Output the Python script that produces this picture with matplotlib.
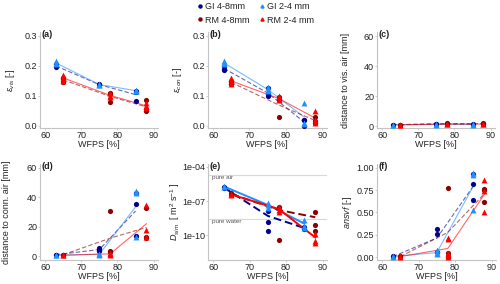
import numpy as np
import matplotlib
matplotlib.use("Agg")
import matplotlib.pyplot as plt
from matplotlib.lines import Line2D

plt.rcParams['font.family'] = ['Liberation Sans', 'DejaVu Sans']
plt.rcParams['mathtext.fontset'] = 'custom'
plt.rcParams['mathtext.rm'] = 'Liberation Sans'
plt.rcParams['mathtext.it'] = 'Liberation Sans:italic'
plt.rcParams['mathtext.bf'] = 'Liberation Sans:bold'

# ---------------- data ----------------
groups = ["GI 4-8mm", "GI 2-4 mm", "RM 4-8mm", "RM 2-4 mm"]
colors = ["#00008B", "#1E90FF", "#8B0000", "#FF0000"]
markers = ["o", "^", "o", "^"]
linestyles = ["--", "-", "--", "-"]
wfps_gi = [63, 75, 85]
wfps_rm = [65, 78, 88]

# (a) visible porosity
eps_vis_gi48 = [[0.195, 0.205], [0.140, 0.135], [0.083, 0.112, 0.118]]
eps_vis_gi24 = [[0.210, 0.215, 0.205], [0.140, 0.135, 0.138], [0.120, 0.115, 0.118]]
eps_vis_rm48 = [[0.155, 0.145, 0.160], [0.105, 0.080, 0.110], [0.085, 0.055, 0.050]]
eps_vis_rm24 = [[0.170, 0.160, 0.150], [0.110, 0.100, 0.095], [0.075, 0.065, 0.060]]

# (b) connected porosity
eps_con_gi48 = [[0.190, 0.200, 0.185], [0.100, 0.105, 0.125], [0.020, 0.000, 0.020]]
eps_con_gi24 = [[0.215, 0.205, 0.210], [0.120, 0.115, 0.130], [0.075, 0.005, 0.010]]
eps_con_rm48 = [[0.150, 0.140, 0.145], [0.095, 0.085, 0.030], [0.030, 0.015, 0.010]]
eps_con_rm24 = [[0.160, 0.150, 0.140], [0.100, 0.090, 0.085], [0.050, 0.020, 0.010]]

# (c) distance to visible air [mm]
dvis_gi48 = [[1.0, 0.8], [1.5, 1.2], [1.2, 1.0]]
dvis_gi24 = [[0.8, 1.0], [1.2, 1.0], [1.0, 1.3]]
dvis_rm48 = [[1.0, 0.8], [1.8, 1.5], [1.8, 1.5]]
dvis_rm24 = [[0.7, 0.9], [1.2, 1.5], [1.5, 1.2]]

# (d) distance to connected air [mm]
dcon_gi48 = [[0.8, 1.0], [5.2, 3.6, 4.5], [35.5, 43.0, 13.5]]
dcon_gi24 = [[0.5, 0.6], [1.2, 1.5, 1.0], [44.6, 42.7, 13.2]]
dcon_rm48 = [[1.0, 0.8], [30.5, 3.5, 2.5], [33.0, 12.5, 13.0]]
dcon_rm24 = [[0.5, 0.6], [1.5, 2.0, 1.0], [35.0, 18.0, 13.0]]

# (e) simulated diffusivity [m2 s-1]
dsim_gi48 = [[1.6e-6, 1.4e-6], [1.3e-8, 1.3e-9, 2.5e-10], [5.0e-10, 3.2e-10]]
dsim_gi24 = [[2.0e-6, 1.8e-6], [4.5e-8, 2.5e-8, 6.3e-8], [2.0e-9, 4.0e-10, 6.3e-10]]
dsim_rm48 = [[3.2e-7, 5.0e-7], [3.2e-8, 4.0e-11], [1.0e-8, 8.0e-10, 2.5e-10]]
dsim_rm24 = [[4.0e-7, 3.5e-7], [3.2e-8, 1.6e-8, 1.0e-8], [1.3e-10, 2.0e-11, 3.2e-11]]
d_pure_air = 2.0e-5
d_pure_water = 2.4e-9

# (f) anoxic soil volume fraction
ansvf_gi48 = [[0.01, 0.00], [0.32, 0.26, 0.06], [0.82, 0.64, 0.93]]
ansvf_gi24 = [[0.00, 0.01], [0.08, 0.03, 0.04], [0.94, 0.92, 0.53]]
ansvf_rm48 = [[0.01, 0.00], [0.78, 0.05, 0.00], [0.76, 0.62, 0.75]]
ansvf_rm24 = [[0.01, 0.00], [0.21, 0.20, 0.05, 0.02, 0.00], [0.87, 0.74, 0.50]]

xticks = [60, 70, 80, 90]

panels = [
    dict(tag="(a)", data=[eps_vis_gi48, eps_vis_gi24, eps_vis_rm48, eps_vis_rm24],
         ylabel=r"$\mathit{\varepsilon}_{vis}$ [-]", ylim=(-0.008, 0.313),
         yticks=[0.0, 0.1, 0.2, 0.3], ylabels=["0.0", "0.1", "0.2", "0.3"],
         box=(40, 32, 158, 128.3), ylx=-0.25, log=False),
    dict(tag="(b)", data=[eps_con_gi48, eps_con_gi24, eps_con_rm48, eps_con_rm24],
         ylabel=r"$\mathit{\varepsilon}_{con}$ [-]", ylim=(-0.008, 0.313),
         yticks=[0.0, 0.1, 0.2, 0.3], ylabels=["0.0", "0.1", "0.2", "0.3"],
         box=(208, 32, 326.5, 128.3), ylx=-0.26, log=False),
    dict(tag="(c)", data=[dvis_gi48, dvis_gi24, dvis_rm48, dvis_rm24],
         ylabel="distance to vis. air [mm]", ylim=(-1.5, 62.7),
         yticks=[0, 20, 40, 60], ylabels=["0", "20", "40", "60"],
         box=(377, 32, 495, 128.3), ylx=-0.27, log=False),
    dict(tag="(d)", data=[dcon_gi48, dcon_gi24, dcon_rm48, dcon_rm24],
         ylabel="distance to conn. air [mm]", ylim=(-2.9, 62.9),
         yticks=[0, 20, 40, 60], ylabels=["0", "20", "40", "60"],
         box=(40, 163.7, 158, 260.3), ylx=-0.28, log=False),
    dict(tag="(e)", data=[dsim_gi48, dsim_gi24, dsim_rm48, dsim_rm24],
         ylabel=r"$D_{sim}$  [ m$^{2}$ s$^{-1}$ ]", ylim=(10**-12.23, 10**-3.71),
         yticks=[1e-10, 1e-7, 1e-4], ylabels=["1e-10", "1e-07", "1e-04"],
         box=(208, 163.7, 327, 260.3), ylx=-0.275, log=True),
    dict(tag="(f)", data=[ansvf_gi48, ansvf_gi24, ansvf_rm48, ansvf_rm24],
         ylabel=r"$\mathit{ansvf}$ [-]", ylim=(-0.037, 1.048),
         yticks=[0, 0.25, 0.5, 0.75, 1.0], ylabels=["0.00", "0.25", "0.50", "0.75", "1.00"],
         box=(377, 163.7, 496, 260.3), ylx=-0.245, log=False),
]

W, H = 500, 284
fig = plt.figure(figsize=(W / 100, H / 100), dpi=100)
txtc = "#222222"
fs = 6.5

for p in panels:
    l, t, r, b = p["box"]
    ax = fig.add_axes([l / W, 1 - b / H, (r - l) / W, (b - t) / H])
    heavy = p["log"]
    for gi, series in enumerate(p["data"]):
        xs = wfps_gi if gi < 2 else wfps_rm
        means = [np.mean(v) for v in series]
        ax.plot(xs, means, color=colors[gi], ls=linestyles[gi],
                lw=1.4 if heavy else 0.8, alpha=1.0 if heavy else 0.6,
                dashes=(4, 2) if linestyles[gi] == "--" else (None, None), zorder=2)
    for gi, series in enumerate(p["data"]):
        xs = wfps_gi if gi < 2 else wfps_rm
        px = [x for x, v in zip(xs, series) for _ in v]
        py = [y for v in series for y in v]
        ax.scatter(px, py, s=14 if markers[gi] == "o" else 18, marker=markers[gi],
                   color=colors[gi], linewidths=0, zorder=3)
    if p["log"]:
        ax.set_yscale("log")
        for val, lab in [(d_pure_air, "pure air"), (d_pure_water, "pure water")]:
            ax.axhline(val, color="#d9d9d9", lw=0.8, zorder=1)
            ax.text(0.03, val, lab, transform=ax.get_yaxis_transform(),
                    fontsize=4.5, color="#555555", ha="left", va="top")
        ax.minorticks_off()
    ax.set_xlim(58.6, 91.2)
    ax.set_ylim(*p["ylim"])
    ax.set_xticks(xticks)
    ax.set_xticklabels([str(x) for x in xticks])
    ax.set_yticks(p["yticks"])
    ax.set_yticklabels(p["ylabels"])
    for s in ["top", "right"]:
        ax.spines[s].set_visible(False)
    for s in ["left", "bottom"]:
        ax.spines[s].set_color("#c4c4c4")
        ax.spines[s].set_linewidth(0.8)
    ax.tick_params(axis="both", length=1.5, width=0.6, color="#c4c4c4",
                   labelsize=fs, labelcolor=txtc)
    ax.tick_params(axis="x", pad=0.6)
    ax.tick_params(axis="y", pad=0.6)
    ax.set_xlabel("WFPS [%]", fontsize=fs, color=txtc)
    ax.xaxis.set_label_coords(0.5, -16.5 / (b - t))
    ax.xaxis.label.set_va("center")
    ax.set_ylabel(p["ylabel"], fontsize=fs, color=txtc)
    ax.yaxis.set_label_coords(p["ylx"], 0.5)
    ax.yaxis.label.set_va("center")
    ax.text(0.01, 1 - 2.8 / (b - t), p["tag"], transform=ax.transAxes,
            fontsize=fs, fontweight="bold", color=txtc, ha="left", va="center")

handles = [Line2D([], [], ls="none", marker=m, color=c, markersize=2.2)
           for m, c in zip(markers, colors)]
order = [0, 2, 1, 3]
fig.legend([handles[i] for i in order], [groups[i] for i in order],
           ncol=2, loc="center", bbox_to_anchor=(256 / W, 1 - 13.5 / H),
           frameon=False, fontsize=fs, handlelength=0.5, handletextpad=0.3,
           columnspacing=1.2, labelspacing=0.45, borderpad=0, labelcolor=txtc)

fig.savefig("out.png", dpi=100)
